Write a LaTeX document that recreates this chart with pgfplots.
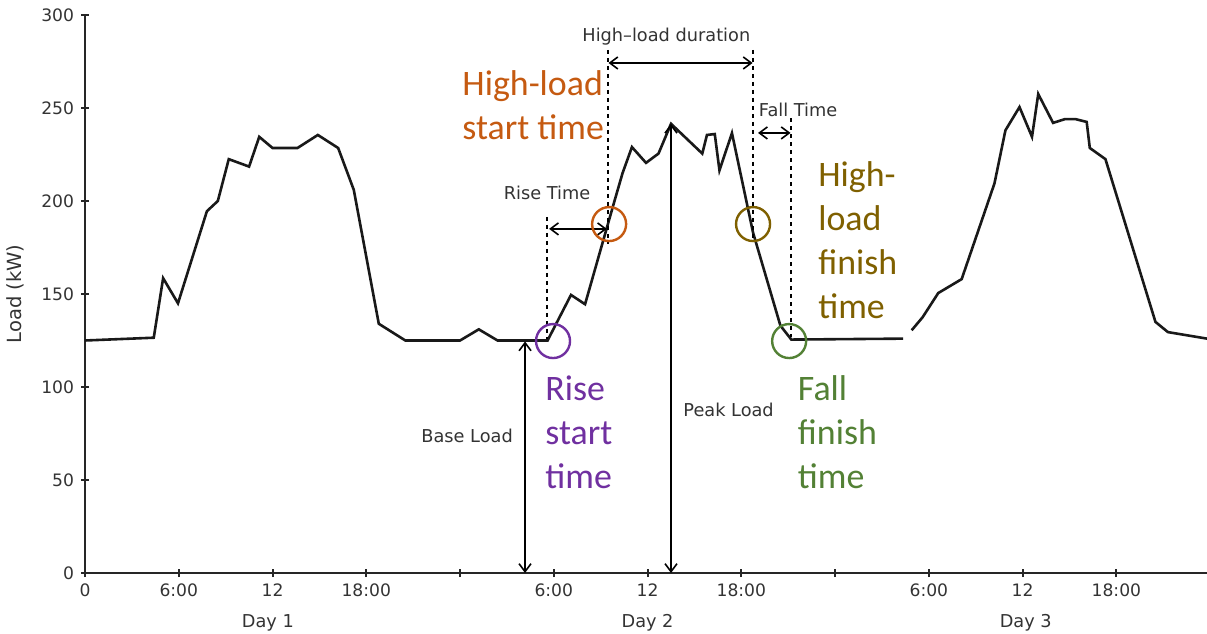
\documentclass[border=0pt]{standalone}
\usepackage{pgfplots}
\pgfplotsset{compat=1.18}
\usepackage{fontspec}
\setmainfont{DejaVu Sans}
\newfontfamily\calib{Carlito}
\usetikzlibrary{arrows.meta}
\definecolor{cOrange}{HTML}{C55A11}
\definecolor{cPurple}{HTML}{7030A0}
\definecolor{cOlive}{HTML}{7F6000}
\definecolor{cGreen}{HTML}{538135}
\definecolor{txt}{HTML}{333333}

\pgfplotstableread{
h v
0 125
4.4 126.5
5.0 158.5
5.95 145
7.8 194.5
8.5 200
9.2 222.5
10.5 218.5
11.15 234.5
12.0 228.5
13.6 228.5
14.9 235.5
16.2 228.5
17.2 206
18.8 134
20.5 125
24.0 125
25.2 131
26.4 125
29.6 125
31.1 149.5
32.0 144.5
33.9 200.5
34.4 215
35.0 229
35.9 220.5
36.7 225.5
37.5 241.5
39.5 225.5
39.8 235.5
40.3 236
40.6 216.5
41.4 236.5
42.75 183
44.5 133
45.2 125.5
52.35 126
52.6 nan
52.9 130.5
53.6 137.5
54.6 150.5
56.1 158
58.2 209.5
58.9 238
59.8 250.5
60.6 234.5
61.0 257.5
61.95 242
62.7 244
63.4 244
64.1 242.5
64.3 228.5
65.3 222.5
68.5 135
69.3 129.5
71.8 126
}\loaddata

\begin{document}
\begin{tikzpicture}
\tikzset{
  small/.style={font=\fontsize{8.9}{10.5}\selectfont, text=txt},
  big/.style={font=\calib\fontsize{18}{22}\selectfont, align=left, anchor=west, inner sep=0pt},
  dimarr/.style={line width=0.8bp, {Straight Barb[length=4bp,width=6bp]}-{Straight Barb[length=4bp,width=6bp]}},
  dots/.style={line width=1bp, dash pattern=on 2bp off 2bp},
  ring/.style={line width=1.2bp},
}
\begin{axis}[
    name=ax,
    scale only axis,
    width=561bp, height=279bp,
    xmin=0, xmax=71.8,
    ymin=0, ymax=300,
    axis x line*=bottom,
    axis y line*=left,
    axis line style={line width=1bp, black!85},
    xtick={0,6,...,66},
    xticklabels={0,6:00,12,18:00,,6:00,12,18:00,,6:00,12,18:00},
    ytick={0,50,...,300},
    tick align=center,
    major tick length=4bp,
    tick style={line width=1bp, black!85},
    tick label style={font=\fontsize{8.6}{10}\selectfont, text=txt},
    /pgf/number format/assume math mode=true,
    ylabel={Load (kW)},
    ylabel style={at={(rel axis cs:-0.0624,0.5)}, anchor=center,
        font=\fontsize{9.8}{11}\selectfont, text=txt},
    unbounded coords=jump,
    clip=false,
]
\addplot[line width=1.3bp, black!90, mark=none] table[x=h, y=v] {\loaddata};

% day labels
\node[small] at (axis cs:11.7,0) [yshift=-25bp] {Day 1};
\node[small] at (axis cs:36,0) [yshift=-25bp] {Day 2};
\node[small] at (axis cs:60.2,0) [yshift=-25bp] {Day 3};

% dotted guides
\draw[dots] (axis cs:29.57,191.4) -- (axis cs:29.57,126);
\draw[dots] (axis cs:33.47,281.2) -- (axis cs:33.47,177);
\draw[dots] (axis cs:42.75,281.2) -- (axis cs:42.75,180);
\draw[dots] (axis cs:45.2,244.6) -- (axis cs:45.2,127);

% dimension arrows
\draw[dimarr] (axis cs:33.5,274.2) -- (axis cs:42.72,274.2);
\node[small] at (axis cs:37.2,288.2) {High–load duration};
\draw[dimarr] (axis cs:43.07,236.6) -- (axis cs:45.15,236.6);
\node[small, anchor=west, inner sep=0pt] at (axis cs:43.1,249) {Fall Time};
\draw[dimarr] (axis cs:29.7,185) -- (axis cs:33.4,185);
\node[small] at (axis cs:29.57,204.3) {Rise Time};
\draw[dimarr] (axis cs:28.16,0) -- (axis cs:28.16,124.5);
\node[small] at (axis cs:24.45,73.7) {Base Load};
\draw[dimarr] (axis cs:37.5,0) -- (axis cs:37.5,241.5);
\node[small, anchor=west, inner sep=0pt] at (axis cs:38.27,87.6) {Peak Load};

% circles
\draw[ring, cPurple] (axis cs:29.95,124.7) circle[radius=8.5bp];
\draw[ring, cOrange] (axis cs:33.54,187.6) circle[radius=8.5bp];
\draw[ring, cOlive] (axis cs:42.75,187.6) circle[radius=8.5bp];
\draw[ring, cGreen] (axis cs:45.06,124.7) circle[radius=8.5bp];

% coloured labels
\node[big, text=cOrange] at (axis cs:24.13,251.6) {High-load\\start time};
\node[big, text=cPurple] at (axis cs:29.44,75.8) {Rise\\start\\time};
\node[big, text=cOlive] at (axis cs:46.9,179) {High-\\load\\finish\\time};
\node[big, text=cGreen] at (axis cs:45.6,75.8) {Fall\\finish\\time};
\end{axis}
\pgfresetboundingbox
\path[use as bounding box] ([xshift=-42.5bp,yshift=-30.5bp]ax.south west)
    rectangle ([yshift=7.5bp]ax.north east);
\end{tikzpicture}
\end{document}
